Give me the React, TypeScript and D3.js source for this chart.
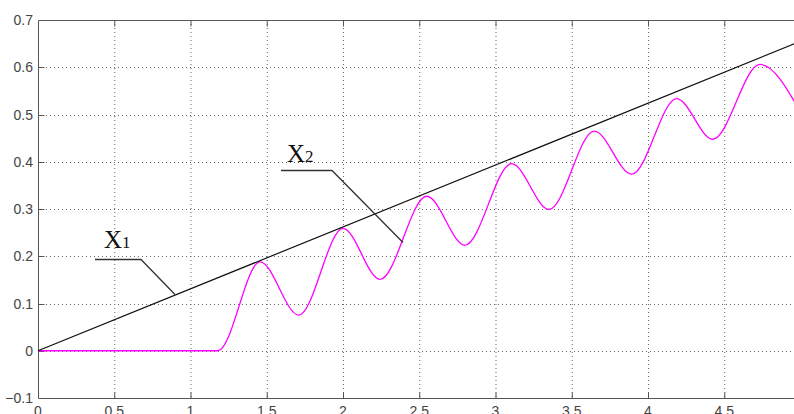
import React, { useEffect, useRef } from "react";
import * as d3 from "d3";

// x1: straight line response
const x1Times = [0, 5];
const x1Values = [0, 0.655];

// x2: delayed oscillating response (at its turning points)
const x2Times = [0, 1.18, 1.456, 1.71, 2.0, 2.243, 2.549, 2.8, 3.106, 3.351, 3.648, 3.893, 4.188, 4.424, 4.734, 5.0];
const x2Values = [0, 0, 0.188, 0.0755, 0.259, 0.151, 0.327, 0.2235, 0.396, 0.299, 0.465, 0.3736, 0.5336, 0.4476, 0.606, 0.505];

const xTicks = [0, 0.5, 1, 1.5, 2, 2.5, 3, 3.5, 4, 4.5, 5];
const yTicks = [-0.1, 0, 0.1, 0.2, 0.3, 0.4, 0.5, 0.6, 0.7];

export default function App() {
  const ref = useRef<SVGSVGElement>(null);

  const W = 794,
    H = 414;
  const margin = { top: 20, left: 38 };
  const innerW = 762.5,
    innerH = 378;

  useEffect(() => {
    const svg = d3.select(ref.current);
    svg.selectAll("*").remove();

    const x = d3.scaleLinear().domain([0, 5]).range([margin.left, margin.left + innerW]);
    const y = d3.scaleLinear().domain([-0.1, 0.7]).range([margin.top + innerH, margin.top]);

    const g = svg.append("g");

    // grid
    g.selectAll(".vgrid")
      .data(xTicks.slice(1))
      .enter()
      .append("line")
      .attr("x1", (d) => x(d) + 0.5)
      .attr("x2", (d) => x(d) + 0.5)
      .attr("y1", y(0.7))
      .attr("y2", y(-0.1))
      .attr("stroke", "#666")
      .attr("stroke-dasharray", "1,3");
    g.selectAll(".hgrid")
      .data(yTicks.slice(1, -1))
      .enter()
      .append("line")
      .attr("x1", x(0))
      .attr("x2", x(5))
      .attr("y1", (d) => Math.round(y(d)) + 0.5)
      .attr("y2", (d) => Math.round(y(d)) + 0.5)
      .attr("stroke", "#666")
      .attr("stroke-dasharray", "1,3");

    // frame
    const frameY0 = Math.round(y(0.7)) + 0.5,
      frameY1 = Math.round(y(-0.1)) + 0.5,
      frameX0 = Math.round(x(0)) + 0.5;
    g.append("path")
      .attr("d", `M${x(5)},${frameY0}H${frameX0}V${frameY1}H${x(5)}`)
      .attr("fill", "none")
      .attr("stroke", "#555")
      .attr("stroke-width", 1);

    // ticks
    g.selectAll(".xt")
      .data(xTicks.slice(1))
      .enter()
      .append("path")
      .attr("d", (d) => `M${x(d) + 0.5},${frameY0}v6M${x(d) + 0.5},${frameY1}v-6`)
      .attr("stroke", "#555");
    g.selectAll(".yt")
      .data(yTicks.slice(1, -1))
      .enter()
      .append("path")
      .attr("d", (d) => `M${frameX0},${Math.round(y(d)) + 0.5}h6`)
      .attr("stroke", "#555");

    // tick labels
    g.selectAll(".yl")
      .data(yTicks)
      .enter()
      .append("text")
      .attr("x", margin.left - 5)
      .attr("y", (d) => y(d))
      .attr("dy", "0.36em")
      .attr("text-anchor", "end")
      .attr("font-family", "Liberation Sans, Arial, sans-serif")
      .attr("font-size", 14)
      .attr("fill", "#444")
      .text((d) => d3.format("")(+d.toFixed(1)));
    g.selectAll(".xl")
      .data(xTicks)
      .enter()
      .append("text")
      .attr("x", (d) => x(d))
      .attr("y", y(-0.1) + 5)
      .attr("dy", "0.9em")
      .attr("text-anchor", "middle")
      .attr("font-family", "Liberation Sans, Arial, sans-serif")
      .attr("font-size", 14)
      .attr("fill", "#444")
      .text((d) => String(d));

    // series
    const x1Data = x1Times.map((t, i) => [t, x1Values[i]] as [number, number]);
    const x2Data = x2Times.map((t, i) => [t, x2Values[i]] as [number, number]);

    g.append("path")
      .datum(x2Data)
      .attr("fill", "none")
      .attr("stroke", "#ff00ff")
      .attr("stroke-width", 1.3)
      .attr(
        "d",
        d3
          .line<[number, number]>()
          .x((d) => x(d[0]))
          .y((d) => y(d[1]))
          .curve(d3.curveMonotoneX)
      );

    g.append("path")
      .datum(x1Data)
      .attr("fill", "none")
      .attr("stroke", "#111")
      .attr("stroke-width", 1.2)
      .attr(
        "d",
        d3
          .line<[number, number]>()
          .x((d) => x(d[0]))
          .y((d) => y(d[1]))
      );

    // annotations
    const notes = [
      { label: "1", tx: 104, ty: 248, hx0: 95, hx1: 141, hy: 259.5, ex: 175, ey: 294.5 },
      { label: "2", tx: 287, ty: 161.5, hx0: 281, hx1: 332, hy: 170.5, ex: 403, ey: 242.5 },
    ];
    notes.forEach((n) => {
      g.append("path")
        .attr("d", `M${n.hx0},${n.hy}H${n.hx1}L${n.ex},${n.ey}`)
        .attr("fill", "none")
        .attr("stroke", "#333")
        .attr("stroke-width", 1.3);
      const t = g
        .append("text")
        .attr("x", n.tx)
        .attr("y", n.ty)
        .attr("font-family", "Liberation Serif, Times New Roman, serif")
        .attr("font-size", 25)
        .attr("fill", "#111");
      t.append("tspan").text("X");
      t.append("tspan").attr("font-size", 17).text(n.label);
    });
  }, []);

  return (
    <svg
      ref={ref}
      width={W}
      height={H}
      style={{ position: "absolute", left: 0, top: 0, background: "#fff" }}
    />
  );
}
